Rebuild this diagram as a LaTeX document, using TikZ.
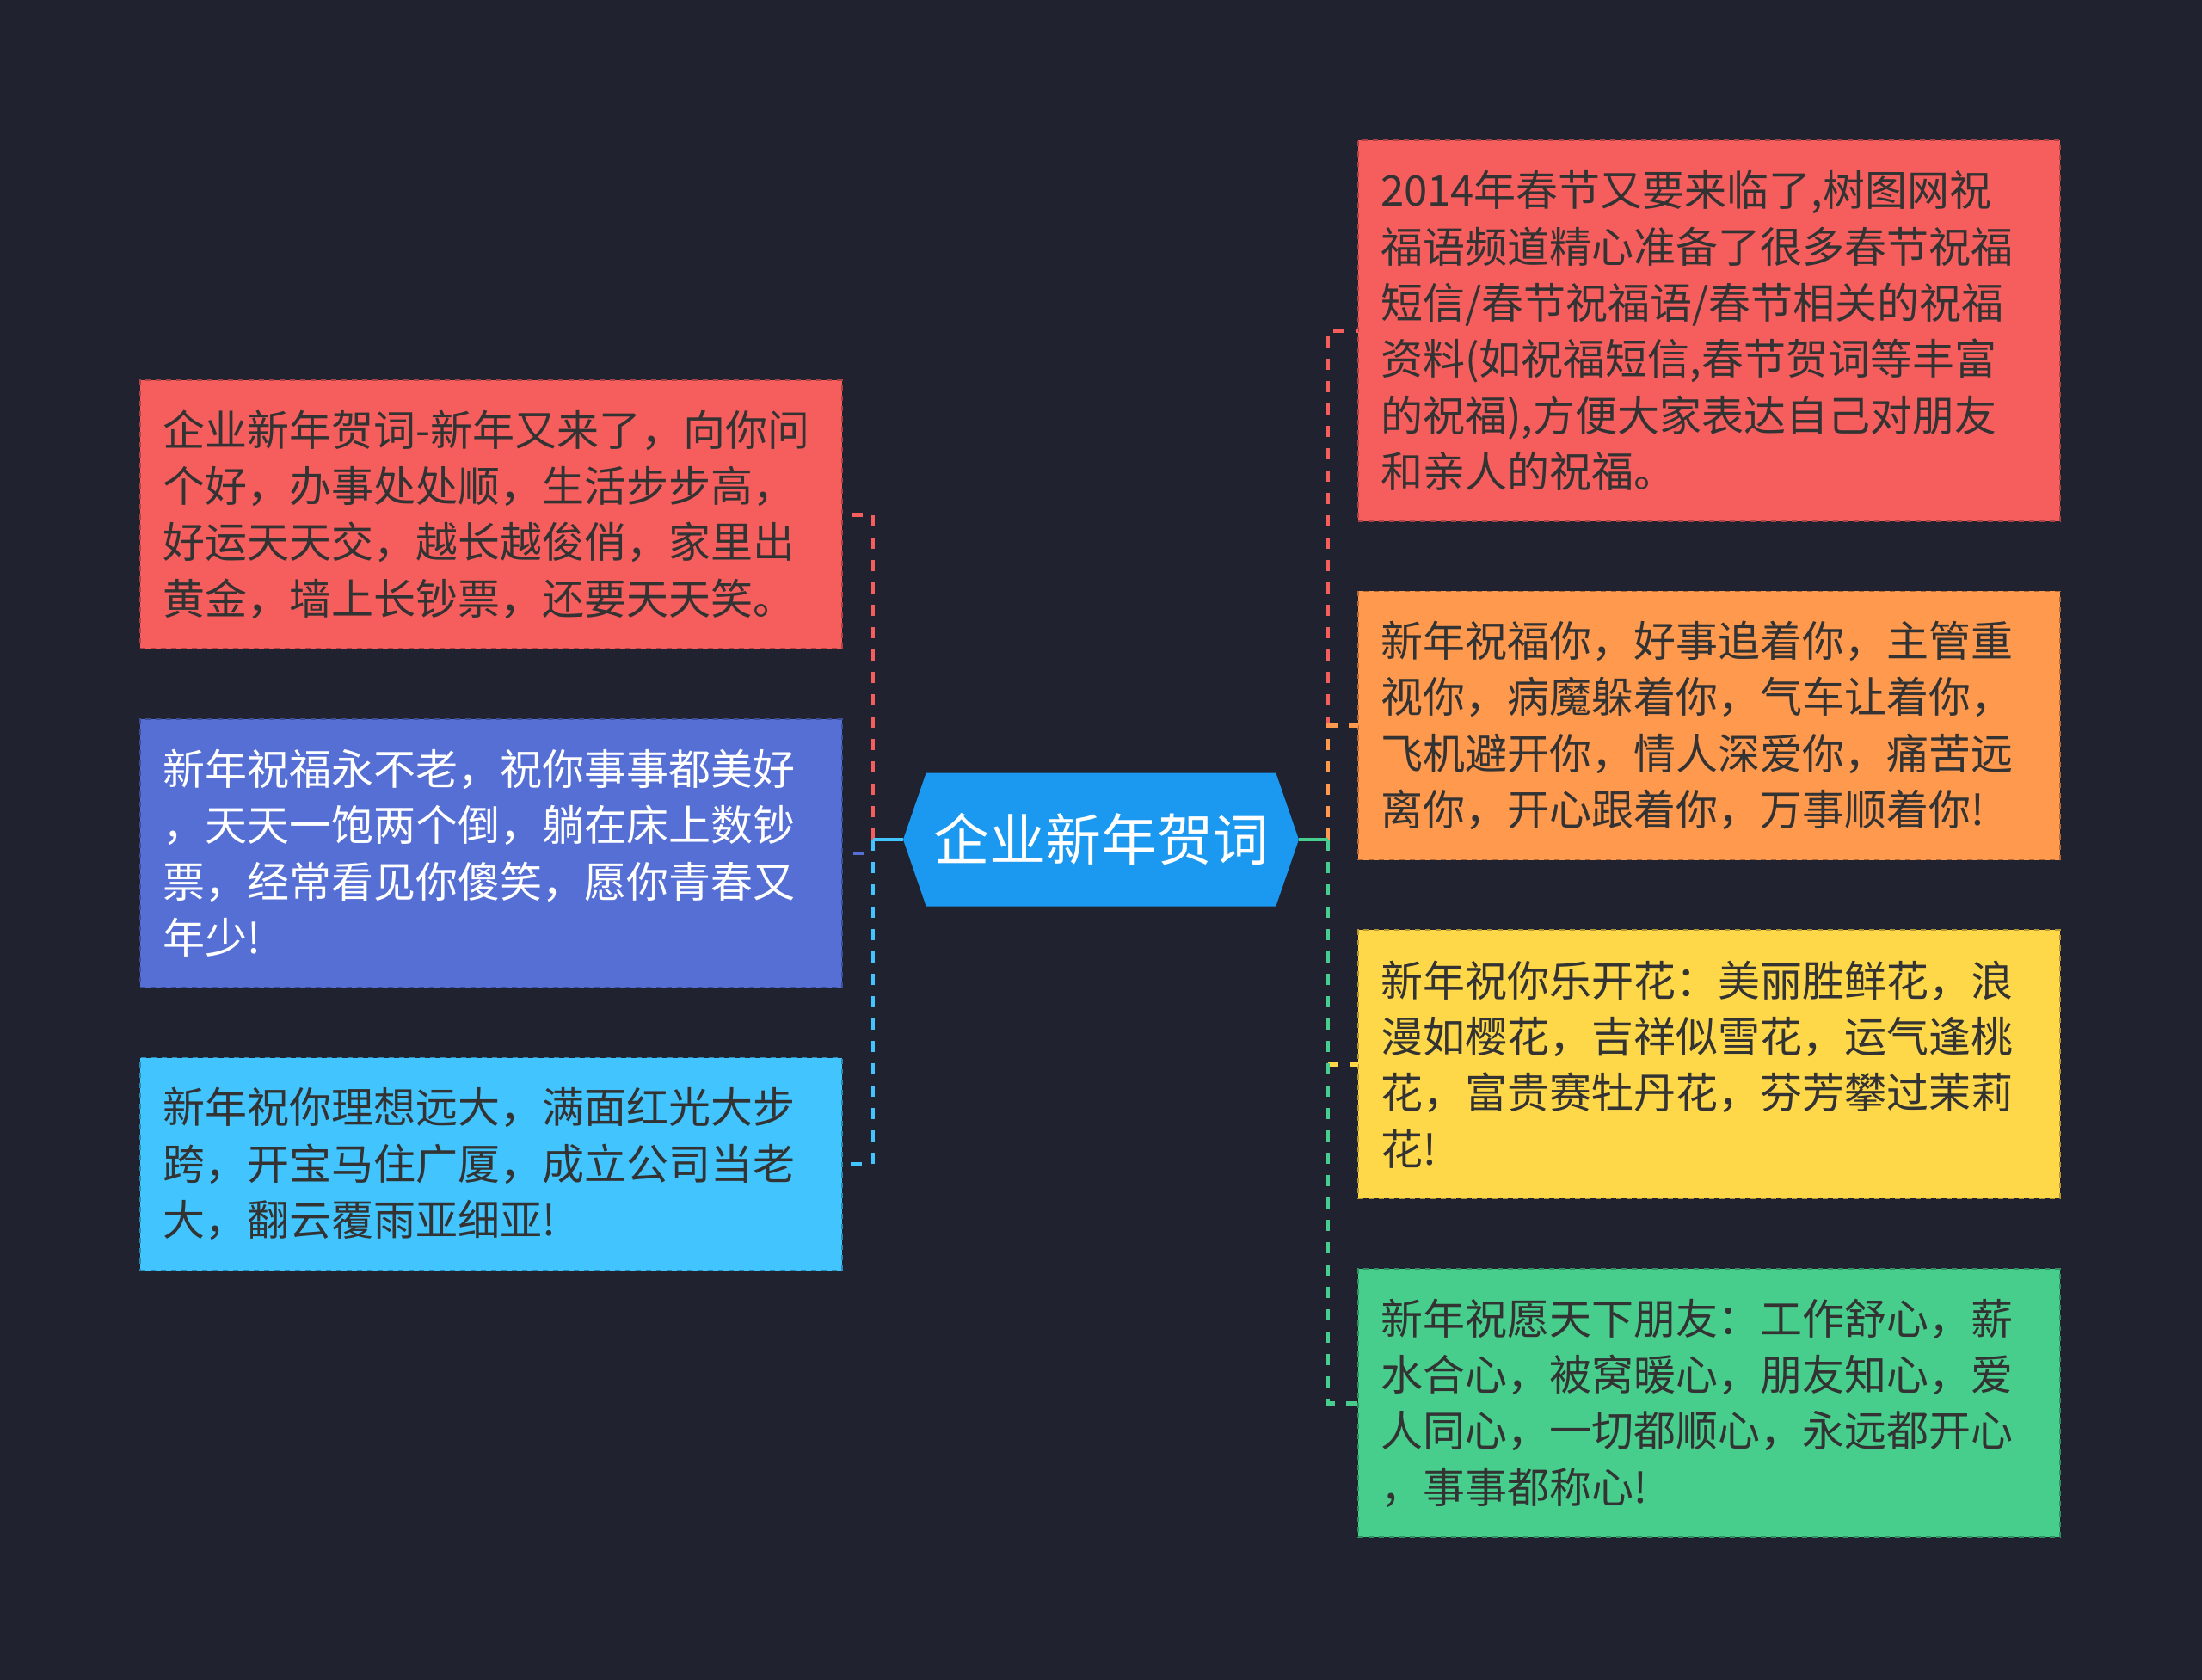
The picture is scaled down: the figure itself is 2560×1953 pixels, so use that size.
\documentclass[tikz,border=0pt]{standalone}
\usepackage{fontspec}
\setmainfont{Noto Sans CJK SC}
\definecolor{bgnavy}{RGB}{32, 35, 47}
\definecolor{cardred}{RGB}{246, 94, 94}
\definecolor{cardpurple}{RGB}{85, 111, 213}
\definecolor{cardsky}{RGB}{66, 196, 254}
\definecolor{cardorange}{RGB}{255, 153, 78}
\definecolor{cardyellow}{RGB}{255, 216, 74}
\definecolor{cardgreen}{RGB}{72, 206, 140}
\definecolor{hubblue}{RGB}{27, 152, 239}
\definecolor{inkgray}{RGB}{51, 51, 51}
\usepackage{tikz}
\usetikzlibrary{shapes.symbols, positioning}

\begin{document}
\begin{tikzpicture}[
        x=0.5pt, y=-0.5pt,
        node distance=40.8pt,
        card/.style={rectangle, fill=#1, draw=#1!70!black, dashed,
                     line width=0.8pt, outer sep=0pt, text width=382pt,
                     inner xsep=13pt, inner ysep=0pt, align=left, text=inkgray,
                     font=\fontsize{24.5pt}{32.65pt}\selectfont},
        rows/.style={minimum height={#1*32.65pt+25.5pt}},
        hub/.style={signal, signal to=west and east, signal pointer angle=142,
                    fill=hubblue, text=white, minimum width=230pt,
                    minimum height=77.5pt, inner xsep=0pt, outer sep=0pt,
                    font=\fontsize{32.5pt}{40pt}\selectfont},
        stem/.style={line width=2.4pt, draw=#1},
        twig/.style={stem=#1, dash pattern=on 6.5pt off 6.5pt}
      ]
        \fill[bgnavy] (0,0) rectangle (2560,1953);
        \useasboundingbox (0,0) rectangle (2560,1953);

        \node[hub] (hub) at (1280,976) {企业新年贺词};

        % left branch
        \node[card=cardred, rows=4, anchor=north west] (greet) at (163,442)
              {企业新年贺词-新年又来了，向你问\\个好，办事处处顺，生活步步高，\\好运天天交，越长越俊俏，家里出\\黄金，墙上长钞票，还要天天笑。};
        \node[card=cardpurple, rows=4, text=white, below=of greet] (young)
              {新年祝福永不老，祝你事事都美好\\，天天一饱两个倒，躺在床上数钞\\票，经常看见你傻笑，愿你青春又\\年少!};
        \node[card=cardsky, rows=3, below=of young] (dream)
              {新年祝你理想远大，满面红光大步\\跨，开宝马住广厦，成立公司当老\\大，翻云覆雨亚细亚!};

        % right branch
        \node[card=cardred, rows=6, anchor=north west] (intro) at (1579,163)
              {2014年春节又要来临了,树图网祝\\福语频道精心准备了很多春节祝福\\短信/春节祝福语/春节相关的祝福\\资料(如祝福短信,春节贺词等丰富\\的祝福),方便大家表达自己对朋友\\和亲人的祝福。};
        \node[card=cardorange, rows=4, below=of intro] (chase)
              {新年祝福你，好事追着你，主管重\\视你，病魔躲着你，气车让着你，\\飞机避开你，情人深爱你，痛苦远\\离你，开心跟着你，万事顺着你!};
        \node[card=cardyellow, rows=4, below=of chase] (bloom)
              {新年祝你乐开花：美丽胜鲜花，浪\\漫如樱花，吉祥似雪花，运气逢桃\\花，富贵赛牡丹花，芬芳攀过茉莉\\花!};
        \node[card=cardgreen, rows=4, below=of bloom] (heart)
              {新年祝愿天下朋友：工作舒心，薪\\水合心，被窝暖心，朋友知心，爱\\人同心，一切都顺心，永远都开心\\，事事都称心!};

        \coordinate (lbend) at ([xshift=-17.5pt]hub.west);
        \coordinate (rbend) at ([xshift=17pt]hub.east);

        \draw[stem=cardred] (hub.west) -- (lbend);
        \draw[twig=cardred] (lbend) |- (greet.east);
        \draw[stem=cardpurple] (hub.west) -- (lbend);
        \draw[twig=cardpurple] (lbend) |- (young.east);
        \draw[stem=cardsky] (hub.west) -- (lbend);
        \draw[twig=cardsky] (lbend) |- (dream.east);

        \draw[stem=cardred] (hub.east) -- (rbend);
        \draw[twig=cardred] (rbend) |- (intro.west);
        \draw[stem=cardorange] (hub.east) -- (rbend);
        \draw[twig=cardorange] (rbend) |- (chase.west);
        \draw[stem=cardyellow] (hub.east) -- (rbend);
        \draw[twig=cardyellow] (rbend) |- (bloom.west);
        \draw[stem=cardgreen] (hub.east) -- (rbend);
        \draw[twig=cardgreen] (rbend) |- (heart.west);
      \end{tikzpicture}
\end{document}
